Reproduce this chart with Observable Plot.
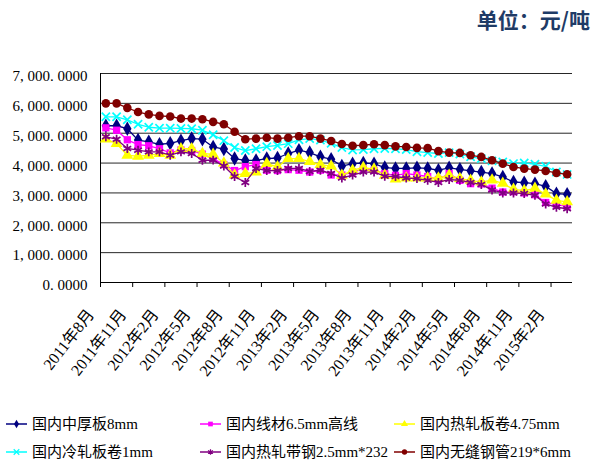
<!DOCTYPE html>
<html><head><meta charset="utf-8">
<script src="https://cdn.jsdelivr.net/npm/d3@7"></script>
<script src="https://cdn.jsdelivr.net/npm/@observablehq/plot@0.6"></script>
<style>
body{margin:0;background:#fff;}
#chart svg{display:block;}
</style></head><body><div id="chart"></div>
<script>
// ---- data ----
const months = [
  "2011年8月","2011年9月","2011年10月","2011年11月","2011年12月","2012年1月",
  "2012年2月","2012年3月","2012年4月","2012年5月","2012年6月","2012年7月",
  "2012年8月","2012年9月","2012年10月","2012年11月","2012年12月","2013年1月",
  "2013年2月","2013年3月","2013年4月","2013年5月","2013年6月","2013年7月",
  "2013年8月","2013年9月","2013年10月","2013年11月","2013年12月","2014年1月",
  "2014年2月","2014年3月","2014年4月","2014年5月","2014年6月","2014年7月",
  "2014年8月","2014年9月","2014年10月","2014年11月","2014年12月","2015年1月",
  "2015年2月","2015年3月"
];
const seriesNames = ["国内中厚板8mm","国内线材6.5mm高线","国内热轧板卷4.75mm","国内冷轧板卷1mm","国内热轧带钢2.5mm*232","国内无缝钢管219*6mm"];
const zhongHouBan = [5250,5250,5150,4770,4710,4630,4660,4750,4820,4800,4540,4470,4150,4090,4090,4150,4170,4320,4430,4350,4210,4130,3900,3980,4000,3980,3850,3820,3820,3840,3820,3760,3840,3790,3740,3700,3650,3535,3366,3344,3311,3221,2976,2953];
const xianCai = [5180,5100,4780,4620,4580,4480,4340,4440,4420,4300,4150,3950,3750,3880,3950,3760,3750,3780,3760,3700,3760,3600,3600,3700,3800,3760,3650,3590,3650,3600,3550,3450,3650,3420,3310,3300,3160,3030,3040,3000,2940,2680,2610,2550];
const reZhaBanJuan = [4800,4650,4260,4230,4260,4320,4262,4480,4480,4320,4290,4000,3600,3650,3700,3980,3870,4150,4150,4050,3950,3900,3590,3760,3850,3800,3590,3460,3500,3500,3500,3500,3590,3480,3420,3360,3430,3320,3120,3080,3150,2960,2750,2700];
const lengZhaBanJuan = [5550,5550,5450,5300,5200,5170,5170,5160,5150,5100,4950,4750,4520,4420,4480,4550,4590,4650,4780,4820,4770,4660,4520,4440,4450,4480,4490,4480,4450,4380,4350,4320,4350,4300,4210,4150,4072,4038,3982,4004,3960,3893,3700,3620];
const reZhaDaiGang = [4880,4800,4490,4430,4375,4375,4262,4375,4320,4094,4100,3900,3550,3350,3820,3750,3750,3820,3820,3720,3760,3650,3500,3600,3700,3700,3560,3550,3500,3480,3420,3350,3450,3420,3350,3280,3100,3000,3000,2980,2920,2630,2520,2470];
const wuFengGangGuan = [6000,6000,5850,5710,5630,5580,5560,5490,5490,5470,5380,5300,5050,4800,4820,4850,4820,4850,4900,4900,4820,4740,4640,4580,4600,4630,4600,4560,4540,4510,4500,4400,4350,4340,4260,4206,4094,3982,3870,3815,3781,3736,3669,3624];
const yTicks = [0,1000,2000,3000,4000,5000,6000,7000];
const labelEvery = 3;
const titleText = "单位：元/吨";

// ---- styling ----
const seriesValues = [zhongHouBan, xianCai, reZhaBanJuan, lengZhaBanJuan, reZhaDaiGang, wuFengGangGuan];
const colors = ["#000080","#FF00FF","#FFFF00","#00FFFF","#800080","#800000"];
const symbols = ["diamond","square","triangle","times","asterisk","circle"];
const filled = [true,true,true,false,false,true];
const radius = [4.4,4.1,4.4,3.8,4.2,4.3];

const rows = seriesNames.map((name, s) => seriesValues[s].map((v, i) => ({series: name, i, value: v})));
const labelIdx = months.map((m, i) => i).filter(i => i % labelEvery === 0);
const boundaries = d3.range(0, months.length + 1, labelEvery).map(k => k - 0.5);

const serif = "'Liberation Serif','Noto Sans CJK SC',serif";

const marks = [
  Plot.gridY(yTicks, {stroke: "#000", strokeOpacity: 0.85, strokeWidth: 1}),
  Plot.axisY(yTicks, {tickSize: 3, tickPadding: 10, dy: 3, label: null,
    tickFormat: d => d3.format(",.4f")(d).replace(/,/g, ", ").replace(/\./, ". "),
    fontSize: 15, fontFamily: serif, fill: "#000", stroke: null}),
  Plot.ruleX([-0.5], {stroke: "#000"}),
  Plot.ruleY([0], {stroke: "#000"}),
  Plot.axisX(boundaries, {tickSize: 5, label: null, tickFormat: () => "", stroke: "#000"}),
  Plot.text(labelIdx, {x: d => d, text: d => months[d], frameAnchor: "bottom",
    rotate: -52, textAnchor: "end", lineAnchor: "middle", dx: -15, dy: 29,
    fontSize: 16, fontFamily: serif, fill: "#000"})
];
seriesNames.forEach((name, s) => {
  marks.push(Plot.line(rows[s], {x: "i", y: "value", stroke: colors[s], strokeWidth: 1.3}));
  marks.push(Plot.dot(rows[s], {x: "i", y: "value", symbol: () => symbols[s], r: radius[s],
    fill: filled[s] ? colors[s] : "none", stroke: filled[s] ? "none" : colors[s], strokeWidth: 1.7}));
});

const chart = Plot.plot({
  width: 596, height: 464,
  marginLeft: 100, marginRight: 24, marginTop: 73, marginBottom: 182,
  x: {domain: [-0.5, months.length - 0.5], axis: null},
  y: {domain: [0, 7000], axis: null},
  symbol: {type: "identity"},
  style: {background: "white", overflow: "visible"},
  marks
});
document.getElementById("chart").appendChild(chart);

const svg = d3.select(chart);
// title
svg.append("text").attr("x", 590).attr("y", 28).attr("text-anchor", "end")
  .attr("font-family", "'Noto Sans CJK SC',sans-serif").attr("font-weight", "bold")
  .attr("font-size", 21).attr("fill", "#1F3B66").text(titleText);

// legend
const colX = [6, 200, 394];
const rowY = [424, 452];
const lg = svg.append("g").attr("font-family", serif).attr("font-size", 15).attr("text-anchor", "start");
seriesNames.forEach((name, s) => {
  const x0 = colX[s % 3], y0 = rowY[Math.floor(s / 3)];
  const g = lg.append("g").attr("transform", `translate(${x0},${y0})`);
  g.append("line").attr("x1", 0).attr("x2", 21).attr("y1", 0).attr("y2", 0)
    .attr("stroke", colors[s]).attr("stroke-width", 1.5);
  const sym = {diamond: d3.symbolDiamond, square: d3.symbolSquare, triangle: d3.symbolTriangle,
    times: d3.symbolTimes, asterisk: d3.symbolAsterisk, circle: d3.symbolCircle}[symbols[s]];
  g.append("path").attr("transform", "translate(10.5,0)")
    .attr("d", d3.symbol(sym, 22)())
    .attr("fill", filled[s] ? colors[s] : "none")
    .attr("stroke", filled[s] ? "none" : colors[s]).attr("stroke-width", 1.2);
  g.append("text").attr("x", 26).attr("dy", "0.35em").attr("fill", "#000").text(name);
});
</script>
</body></html>
